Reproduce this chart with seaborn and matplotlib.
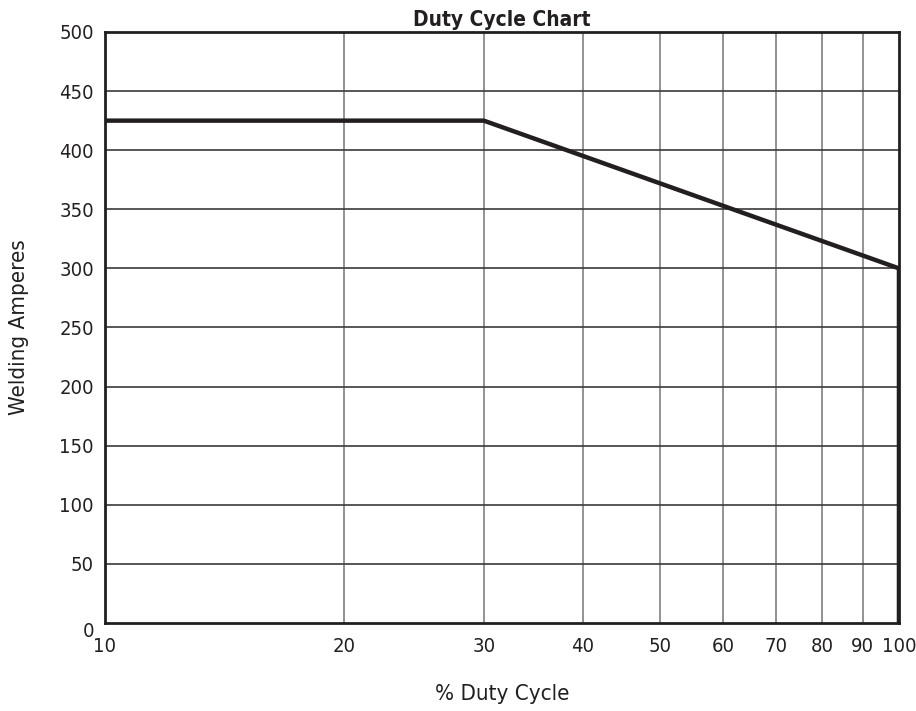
import seaborn as sns
import numpy as np
import pandas as pd
import matplotlib.pyplot as plt
from matplotlib.ticker import NullLocator, FixedLocator
import matplotlib.transforms as mtransforms

# duty cycle curve (log x axis)
duty = [10, 30, 100, 100]
amps = [425, 425, 300, 0]
x_ticks = [10, 20, 30, 40, 50, 60, 70, 80, 90, 100]
y_ticks = [0, 50, 100, 150, 200, 250, 300, 350, 400, 450, 500]

df = pd.DataFrame({'duty': duty, 'amps': amps})

sns.set_style("white")
plt.rcParams['font.family'] = ['Liberation Sans Narrow', 'DejaVu Sans']
plt.rcParams['font.stretch'] = 'condensed'
INK = '#231f20'

fig, ax = plt.subplots(figsize=(9.16, 7.11), dpi=100)
fig.subplots_adjust(left=0.1146, right=0.9814, top=0.955, bottom=0.1238)

ax.set_xscale('log')
ax.set_xlim(10, 100)
ax.set_ylim(0, 500)

# grid: vertical lines grey, horizontal darker
for xv in x_ticks[1:-1]:
    ax.axvline(xv, color='#808080', lw=1.2, zorder=1)
for yv in y_ticks[1:-1]:
    ax.axhline(yv, color='#3a3a3a', lw=1.2, zorder=1)

sns.lineplot(data=df, x='duty', y='amps', sort=False, estimator=None,
             color=INK, lw=3.2, ax=ax, zorder=3, solid_joinstyle='miter')

ax.xaxis.set_major_locator(FixedLocator(x_ticks))
ax.xaxis.set_minor_locator(NullLocator())
ax.set_xticklabels([str(v) for v in x_ticks])
ax.set_yticks(y_ticks)
ax.tick_params(axis='both', length=0, labelsize=14.5, colors=INK, pad=8)
ax.tick_params(axis='x', pad=10)

# nudge the zero label down like the original
lab0 = ax.get_yticklabels()[0]
lab0.set_transform(lab0.get_transform() + mtransforms.ScaledTranslation(0, -5 / 72, fig.dpi_scale_trans))

for s in ax.spines.values():
    s.set_color(INK)
    s.set_linewidth(2)
    s.set_visible(True)

ax.set_title('Duty Cycle Chart', fontsize=15, fontweight='bold', color=INK, pad=4)
ax.set_xlabel('% Duty Cycle', fontsize=16, color=INK, labelpad=20)
ax.set_ylabel('Welding Amperes', fontsize=16, color=INK, labelpad=22)

fig.savefig('out.png', dpi=100, facecolor='white')
